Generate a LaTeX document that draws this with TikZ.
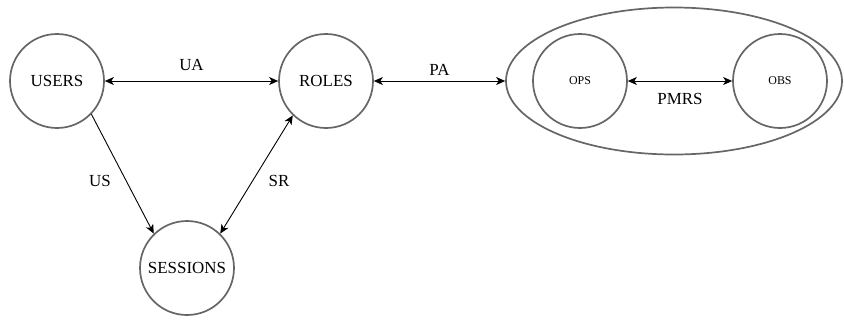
\documentclass[tikz,border=0pt]{standalone}
\usepackage{fontspec}
\setmainfont{Liberation Serif}
\usetikzlibrary{arrows.meta,shapes.geometric}
\begin{document}
\begin{tikzpicture}[x=1bp,y=-1bp,
  >={Stealth[length=9bp,width=8bp,inset=2.5bp]},
  ent/.style={circle,draw=black!60,line width=1.7bp,minimum size=94bp,inner sep=0pt,font=\fontsize{17}{17}\selectfont},
  sment/.style={circle,draw=black!60,line width=1.7bp,minimum size=94bp,inner sep=0pt,font=\fontsize{12}{12}\selectfont},
  conn/.style={line width=0.9bp,draw=black},
  lbl/.style={font=\fontsize{17}{17}\selectfont,inner sep=0pt}]
\useasboundingbox (0,0) rectangle (844,320);
\node[ent] (users) at (57,81) {USERS};
\node[ent] (roles) at (326,81) {ROLES};
\node[ent] (sessions) at (187,268) {SESSIONS};
\node[ellipse,draw=black!60,line width=1.7bp,minimum width=336bp,minimum height=147bp,inner sep=0pt] (perm) at (674,81) {};
\node[sment] (ops) at (580,81) {OPS};
\node[sment] (obs) at (780,81) {OBS};
\draw[conn,<->] (users) -- node[lbl,above=10bp] (ua) {UA} (roles);
\draw[conn,<->] (roles) -- node[lbl,above=5bp] (pa) {PA} (perm);
\draw[conn,<->] (ops) -- node[lbl,below=12bp] (pmrs) {PMRS} (obs);
\draw[conn,->] (users.-44) -- (sessions.134);
\draw[conn,<->] (sessions.46) -- (roles.226);
\node[lbl] (us) at (100,181) {US};
\node[lbl] (sr) at (279,181) {SR};
\end{tikzpicture}
\end{document}
